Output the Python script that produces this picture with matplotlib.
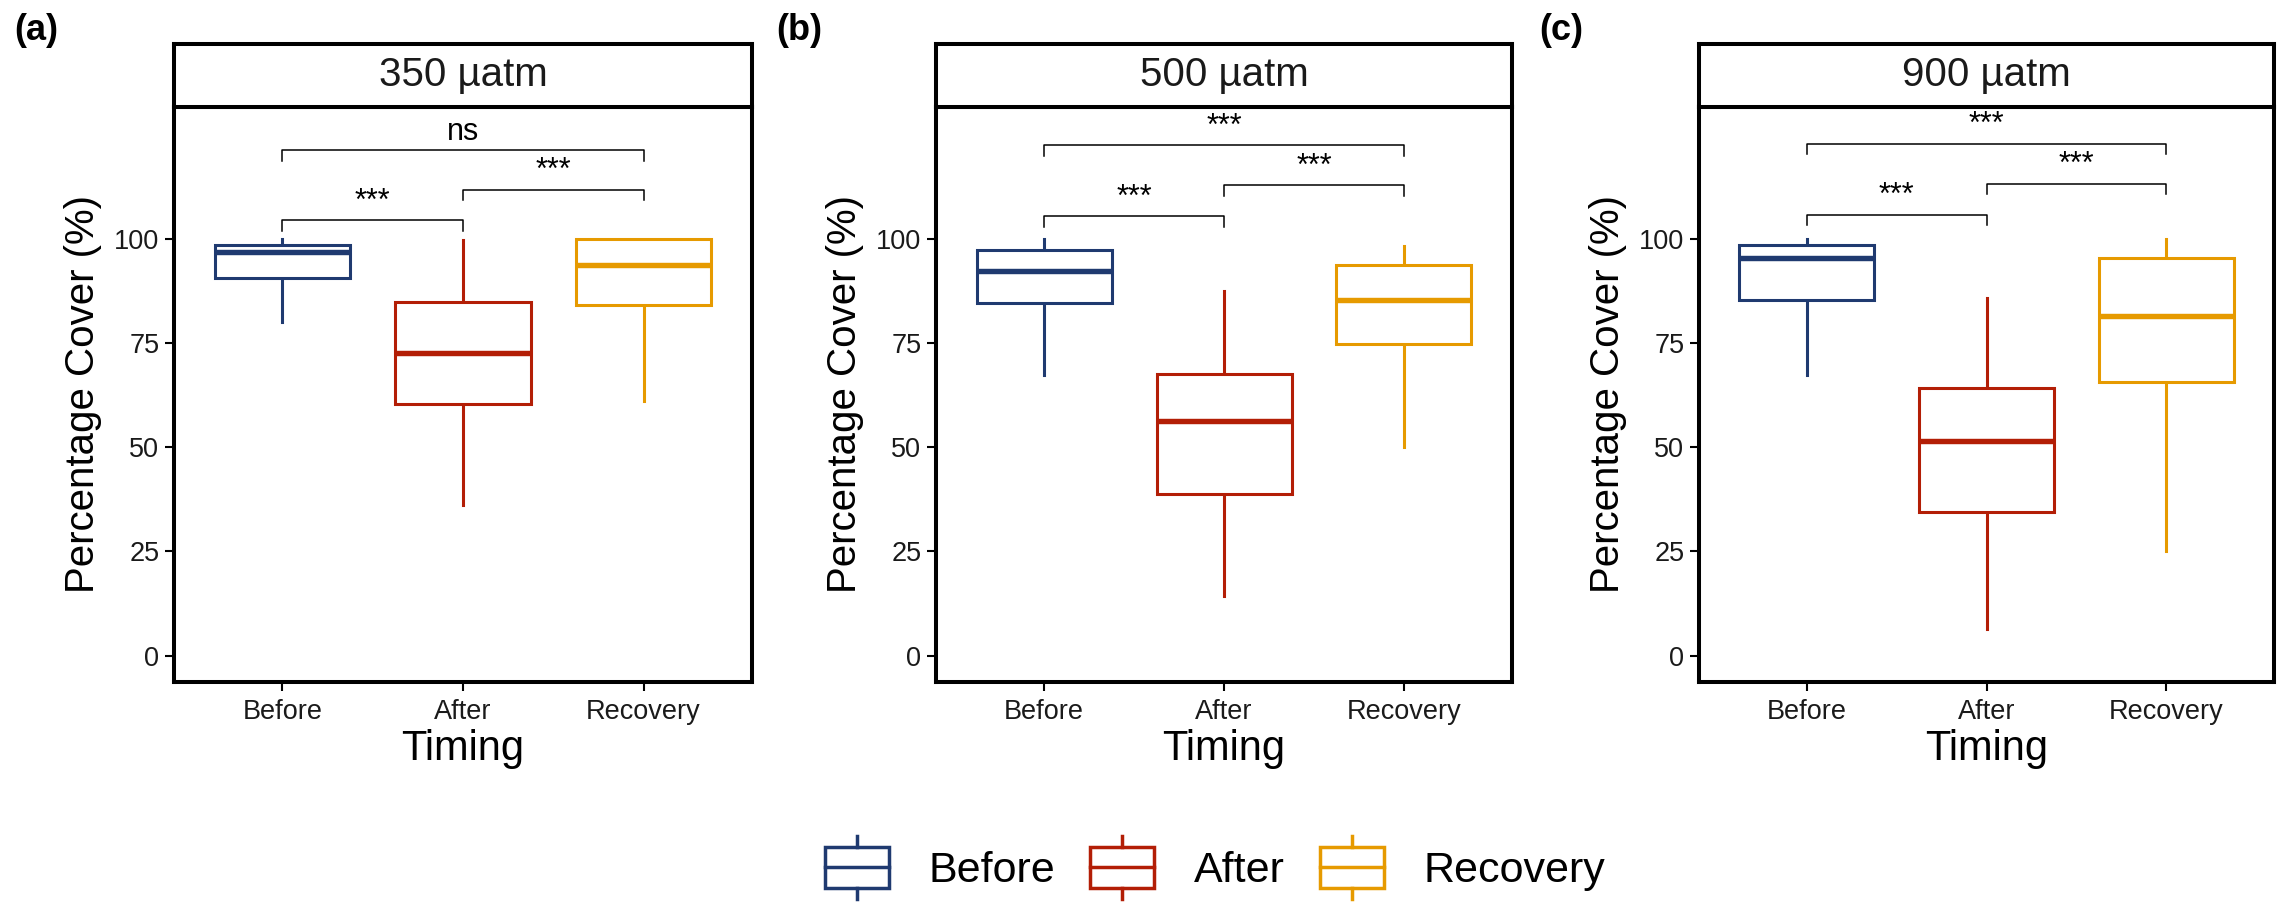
import matplotlib
matplotlib.use("Agg")
import matplotlib.pyplot as plt
from matplotlib.patches import Patch, Rectangle
from matplotlib.lines import Line2D
from matplotlib.legend_handler import HandlerBase

plt.rcParams['font.family'] = ['Liberation Sans', 'DejaVu Sans']

# data (percent cover)
timings = ["Before", "After", "Recovery"]
levels = ["350 µatm", "500 µatm", "900 µatm"]
panel_tags = ["(a)", "(b)", "(c)"]
colors = ["#1F3A70", "#B31E06", "#E69A00"]

whisker_low = [[80.0, 36.2, 61.2], [67.4, 14.3, 50.1], [67.4, 6.3, 25.2]]
q1 = [[90.7, 60.3, 84.1], [84.5, 38.8, 74.7], [85.3, 34.5, 65.6]]
medians = [[96.8, 72.7, 93.7], [92.2, 56.3, 85.2], [95.3, 51.6, 81.4]]
q3 = [[98.5, 84.8, 100.0], [97.3, 67.5, 93.7], [98.4, 64.2, 95.3]]
whisker_high = [[100.0, 99.8, 100.0], [100.0, 87.4, 98.3], [100.0, 85.9, 100.0]]

# pairwise comparisons: pair, bracket height, label
pairs = [(1, 2), (2, 3), (1, 3)]
bracket_y = [[104.4, 111.8, 121.2], [105.4, 112.8, 122.4], [105.8, 113.2, 122.8]]
sig_labels = [["***", "***", "ns"], ["***", "***", "***"], ["***", "***", "***"]]


class BoxKey(HandlerBase):
    # ggplot-like boxplot legend key
    def create_artists(self, legend, orig_handle, xdescent, ydescent,
                       width, height, fontsize, trans):
        c = orig_handle.get_edgecolor()
        x0, y0 = -xdescent, -ydescent
        xm = x0 + width / 2
        box = Rectangle((x0, y0), width, height, facecolor="white",
                        edgecolor=c, lw=2.5, transform=trans)
        med = Line2D([x0, x0 + width], [y0 + height / 2] * 2, color=c, lw=2.5, transform=trans)
        up = Line2D([xm, xm], [y0 + height, y0 + height * 1.28], color=c, lw=2.5, transform=trans)
        dn = Line2D([xm, xm], [y0, y0 - height * 0.28], color=c, lw=2.5, transform=trans)
        return [box, med, up, dn]


W, H = 2277, 902
fig = plt.figure(figsize=(W / 100, H / 100), dpi=100)

lefts = [174, 936, 1699]
widths = [578, 576, 575]
ax_bottom = 1 - 681.5 / H
ax_h = (681.5 - 107) / H
strip_h = (107 - 44) / H

for i in range(3):
    ax = fig.add_axes([lefts[i] / W, ax_bottom, widths[i] / W, ax_h])
    stats = []
    for j in range(3):
        stats.append(dict(med=medians[i][j], q1=q1[i][j], q3=q3[i][j],
                          whislo=whisker_low[i][j], whishi=whisker_high[i][j],
                          label=timings[j]))
    bp = ax.bxp(stats, positions=[1, 2, 3], widths=0.75, showcaps=False,
                showfliers=False, patch_artist=True)
    for j in range(3):
        bp['boxes'][j].set(facecolor="white", edgecolor=colors[j], lw=2.2, zorder=3)
        bp['medians'][j].set(color=colors[j], lw=3.9, solid_capstyle="butt", zorder=4)
        for w in bp['whiskers'][2 * j:2 * j + 2]:
            w.set(color=colors[j], lw=2.2)

    # significance brackets
    for k, (a, b) in enumerate(pairs):
        y = bracket_y[i][k]
        ax.plot([a, a, b, b], [y - 2.5, y, y, y - 2.5], color="black", lw=1.1)
        ax.text((a + b) / 2, y + 0.8, sig_labels[i][k], ha="center", va="bottom",
                fontsize=22, color="black")

    ax.set_xlim(0.4, 3.6)
    ax.set_ylim(-6.2, 131.6)
    ax.set_yticks([0, 25, 50, 75, 100])
    ax.set_xticks([1, 2, 3])
    ax.set_xticklabels(timings)
    ax.tick_params(labelsize=19.5, length=6.5, width=1.5, colors="black",
                   labelcolor="#1a1a1a", pad=4)
    ax.tick_params(axis="x", pad=6)
    for s in ax.spines.values():
        s.set_linewidth(2.9)
    ax.set_xlabel("Timing", fontsize=30, labelpad=3)
    ax.set_ylabel("Percentage Cover (%)", fontsize=29, labelpad=9)

    strip = fig.add_axes([lefts[i] / W, ax_bottom + ax_h, widths[i] / W, strip_h])
    strip.set_xticks([])
    strip.set_yticks([])
    for s in strip.spines.values():
        s.set_linewidth(2.9)
    strip.text(0.5, 0.5, levels[i], ha="center", va="center", fontsize=29,
               color="#1a1a1a", transform=strip.transAxes)

    fig.text((lefts[i] - 160) / W, 1 - 31 / H, panel_tags[i], fontsize=26,
             fontweight="bold", ha="left", va="center")

handles = [Patch(edgecolor=colors[j], facecolor="white", label=timings[j]) for j in range(3)]
fig.legend(handles=handles, handler_map={Patch: BoxKey()}, loc="center",
           bbox_to_anchor=(1215 / W, 1 - 869 / H), ncol=3, frameon=False,
           fontsize=31, handlelength=1.49, handleheight=1.07, handletextpad=0.92,
           columnspacing=0.81)

fig.savefig("out.png", dpi=100)
